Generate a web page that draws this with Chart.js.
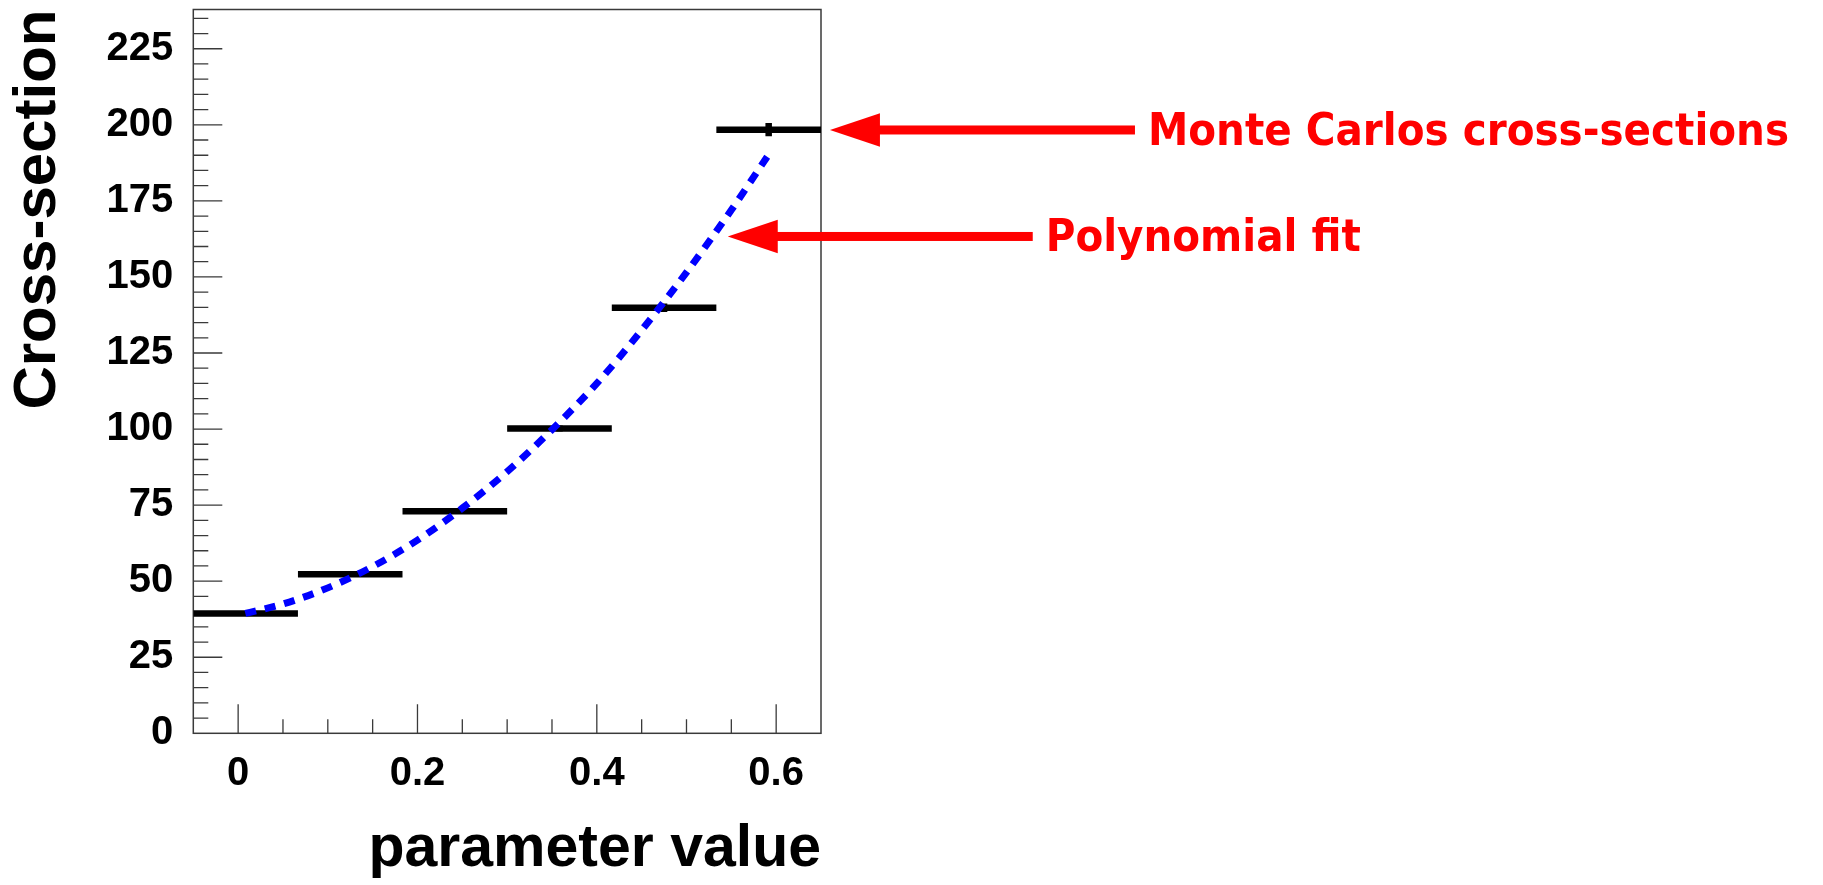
<!DOCTYPE html>
<html>
<head>
<meta charset="utf-8">
<title>Cross-section vs parameter value</title>
<script src="https://cdn.jsdelivr.net/npm/chart.js@4.4.1/dist/chart.umd.min.js"></script>
<style>
  html, body { margin: 0; padding: 0; background: #ffffff; }
  #wrap { width: 1823px; height: 885px; }
</style>
</head>
<body>
<div id="wrap"><canvas id="graf" width="1823" height="885"></canvas></div>
<script>
// Monte Carlo cross-sections, one value per bin
const binEdges = [-0.05, 0.0667, 0.1833, 0.3, 0.4167, 0.5333, 0.65];
const binValues = [39.4, 52.3, 73.0, 100.2, 139.9, 198.4];
const binErrors = [0.4, 0.6, 0.8, 1.0, 1.4, 2.2];

// polynomial fit
const fitX = [0.008, 0.05, 0.1, 0.15, 0.2, 0.25, 0.3, 0.35, 0.4, 0.45, 0.5, 0.55, 0.59];
const fitY = [39.4, 42.5, 47.8, 54.8, 63.5, 74.0, 86.0, 99.8, 115.0, 132.5, 151.5, 172.0, 189.5];

// axes
const xTicks = [0, 0.2, 0.4, 0.6];
const xTickLabels = ["0", "0.2", "0.4", "0.6"];
const yTicks = [0, 25, 50, 75, 100, 125, 150, 175, 200, 225];
const yTickLabels = ["0", "25", "50", "75", "100", "125", "150", "175", "200", "225"];

// red notes with arrows
const noteTexts = ["Monte Carlos cross-sections", "Polynomial fit"];

const notes = [
  { text: noteTexts[0], tipX: 0.66, tipY: 198.3 },
  { text: noteTexts[1], tipX: 0.546, tipY: 163.3 },
];

const tickFarge = "#3a3a3a";
const aksefont = "'Liberation Sans', Arial, Helvetica, sans-serif";

// histogram bars as separate horizontal segments
const binPunkter = [];
const feilPunkter = [];
binValues.forEach((v, i) => {
  binPunkter.push({ x: binEdges[i], y: v }, { x: binEdges[i + 1], y: v }, { x: binEdges[i + 1], y: null });
  const midt = (binEdges[i] + binEdges[i + 1]) / 2;
  feilPunkter.push({ x: midt, y: v - binErrors[i] }, { x: midt, y: v + binErrors[i] }, { x: midt, y: null });
});
const fitPunkter = fitX.map((x, i) => ({ x: x, y: fitY[i] }));

// frame and inward ticks, ROOT style
const rammePlugin = {
  id: "ramme",
  beforeDatasetsDraw(chart) {
    const { ctx, chartArea: a, scales } = chart;
    const xs = scales.x;
    const ys = scales.y;
    ctx.save();
    ctx.strokeStyle = tickFarge;
    ctx.lineWidth = 1.3;
    ctx.beginPath();
    for (let v = 5; v < ys.max; v += 5) {
      const py = ys.getPixelForValue(v);
      const lengde = yTicks.includes(v) ? 29 : 15;
      ctx.moveTo(a.left, py);
      ctx.lineTo(a.left + lengde, py);
    }
    for (let i = 0; i <= 12; i++) {
      const px = xs.getPixelForValue(i * 0.05);
      const lengde = i % 4 === 0 ? 29 : 14;
      ctx.moveTo(px, a.bottom);
      ctx.lineTo(px, a.bottom - lengde);
    }
    ctx.stroke();
    ctx.lineWidth = 1.5;
    ctx.strokeRect(a.left, a.top, a.right - a.left, a.bottom - a.top);
    ctx.restore();
  },
};

const notatPlugin = {
  id: "notater",
  afterDraw(chart) {
    const { ctx, scales } = chart;
    ctx.save();
    ctx.fillStyle = "#ff0000";
    ctx.font = "bold 45px 'DejaVu Sans Condensed', 'DejaVu Sans', sans-serif";
    ctx.textBaseline = "alphabetic";
    ctx.textAlign = "left";
    notes.forEach((n) => {
      const tx = scales.x.getPixelForValue(n.tipX);
      const ty = scales.y.getPixelForValue(n.tipY);
      ctx.beginPath();
      ctx.moveTo(tx, ty);
      ctx.lineTo(tx + 50, ty - 16.7);
      ctx.lineTo(tx + 50, ty + 16.7);
      ctx.closePath();
      ctx.fill();
      ctx.fillRect(tx + 49, ty - 4.5, 256, 9);
      ctx.fillText(n.text, tx + 318, ty + 15);
    });
    ctx.restore();
  },
};

new Chart(document.getElementById("graf"), {
  type: "line",
  data: {
    datasets: [
      {
        label: "Polynomial fit",
        data: fitPunkter,
        borderColor: "#0000ff",
        borderWidth: 7,
        borderDash: [11, 9],
        cubicInterpolationMode: "monotone",
        pointRadius: 0,
        order: 0,
      },
      {
        label: "Monte Carlo",
        data: binPunkter,
        borderColor: "#000000",
        borderWidth: 6.5,
        tension: 0,
        pointRadius: 0,
        spanGaps: false,
        order: 1,
      },
      {
        label: "Feil",
        data: feilPunkter,
        borderColor: "#000000",
        borderWidth: 6.5,
        tension: 0,
        pointRadius: 0,
        spanGaps: false,
        order: 2,
      },
    ],
  },
  options: {
    responsive: false,
    devicePixelRatio: 1,
    animation: false,
    layout: { padding: { left: 0, top: 9.5, right: 1002, bottom: 0 } },
    plugins: {
      legend: { display: false },
      tooltip: { enabled: false },
    },
    scales: {
      x: {
        type: "linear",
        min: -0.05,
        max: 0.65,
        afterBuildTicks: (s) => {
          s.ticks = xTicks.map((v) => ({ value: v }));
        },
        afterFit: (s) => {
          s.height = 151.7;
          s.paddingLeft = 0;
          s.paddingRight = 0;
        },
        grid: { display: false, drawTicks: false },
        border: { display: false },
        ticks: {
          autoSkip: false,
          maxRotation: 0,
          padding: 17,
          color: "#000000",
          font: { family: aksefont, size: 40, weight: "bold" },
          callback: (v) => xTickLabels[xTicks.indexOf(v)],
        },
        title: {
          display: true,
          text: "parameter value",
          align: "end",
          color: "#000000",
          font: { family: aksefont, size: 59, weight: "bold" },
          padding: { top: 4, bottom: 0 },
        },
      },
      y: {
        type: "linear",
        min: 0,
        max: 237.9,
        afterBuildTicks: (s) => {
          s.ticks = yTicks.map((v) => ({ value: v }));
        },
        afterFit: (s) => {
          s.width = 193.3;
          s.paddingTop = 0;
          s.paddingBottom = 0;
        },
        grid: { display: false, drawTicks: false },
        border: { display: false },
        ticks: {
          autoSkip: false,
          padding: 20,
          color: "#000000",
          font: { family: aksefont, size: 40, weight: "bold" },
          callback: (v) => yTickLabels[yTicks.indexOf(v)],
        },
        title: {
          display: true,
          text: "Cross-section",
          align: "end",
          color: "#000000",
          font: { family: aksefont, size: 60, weight: "bold" },
          padding: { top: 2, bottom: 0 },
        },
      },
    },
  },
  plugins: [rammePlugin, notatPlugin],
});
</script>
</body>
</html>
